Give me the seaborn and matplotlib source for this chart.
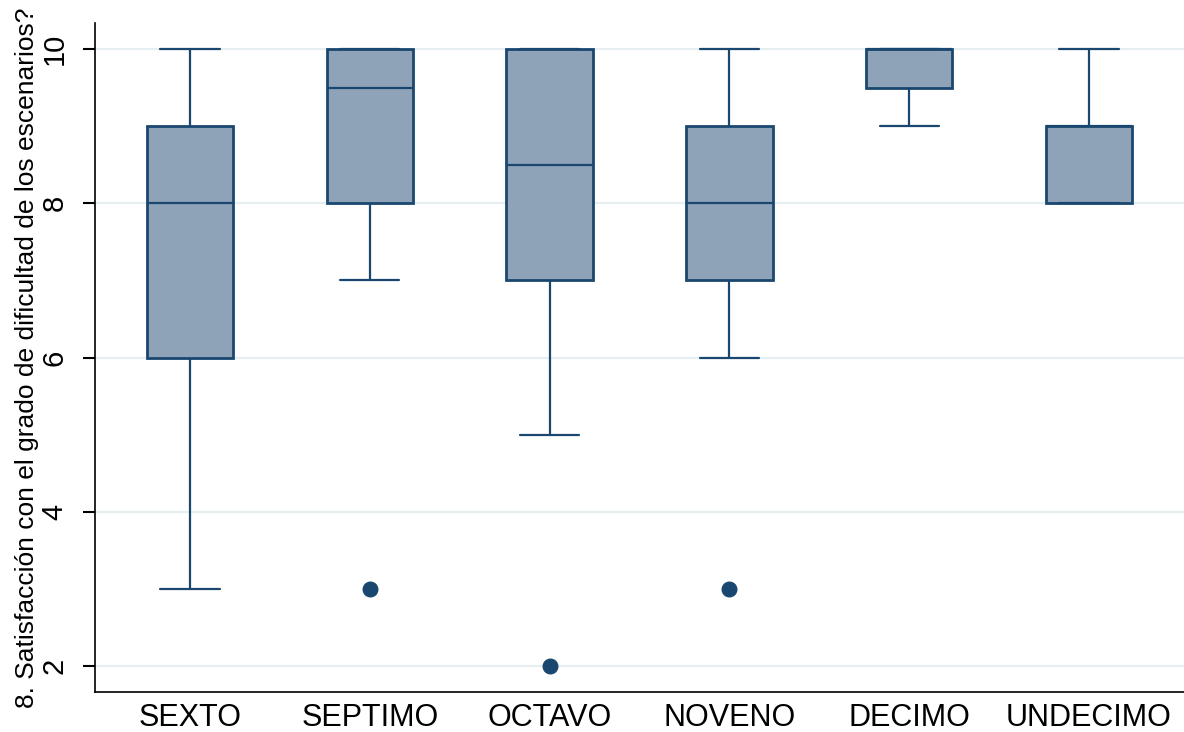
import matplotlib
matplotlib.use("Agg")
import matplotlib.pyplot as plt
import seaborn as sns
import pandas as pd

# scores per grade (chosen so the box stats match the picture)
grados = ["SEXTO", "SEPTIMO", "OCTAVO", "NOVENO", "DECIMO", "UNDECIMO"]
sexto = [3, 6, 8, 9, 10]
septimo = [3, 7, 8, 8, 9, 10, 10, 10, 10, 10]
octavo = [2, 5, 7, 7, 8, 9, 10, 10, 10, 10]
noveno = [3, 6, 7, 8, 8, 8, 9, 9, 10]
decimo = [9, 9, 10, 10, 10, 10, 10]
undecimo = [8, 8, 9, 9, 10]
yticks = [2, 4, 6, 8, 10]
ylabel = "8. Satisfacción con el grado de dificultad de los escenarios?"

valores = [sexto, septimo, octavo, noveno, decimo, undecimo]
rows = []
for g, vals in zip(grados, valores):
    for v in vals:
        rows.append({"grado": g, "score": v})
df = pd.DataFrame(rows)

sns.set_style("ticks", {"text.color": "black", "axes.labelcolor": "black",
                        "xtick.color": "black", "ytick.color": "black"})
plt.rcParams["font.family"] = ["Liberation Sans", "DejaVu Sans"]

navy = "#1a476f"
fill = "#8ea3b7"

fig = plt.figure(figsize=(11.84, 7.32), dpi=100)
ax = fig.add_axes([0.0802, 0.0546, 0.9198, 0.914])

ax.grid(axis="y", color="#e6eef1", lw=1.6, zorder=0)
ax.set_axisbelow(True)

sns.boxplot(data=df, x="grado", y="score", order=grados, ax=ax,
            width=0.48, color=fill, linecolor=navy, linewidth=1.6,
            whis=1.5, capwidths=0.33,
            boxprops=dict(facecolor=fill, edgecolor=navy, linewidth=2),
            medianprops=dict(color=navy, linewidth=1.6),
            whiskerprops=dict(color=navy, linewidth=1.6),
            capprops=dict(color=navy, linewidth=1.6),
            flierprops=dict(marker="o", markerfacecolor=navy,
                            markeredgecolor=navy, markersize=10.5))

ax.set_xlim(-0.528, 5.528)
ax.set_ylim(1.66, 10.34)
ax.set_yticks(yticks)
ax.set_yticklabels([str(t) for t in yticks], rotation=90, va="center", fontsize=21)
ax.tick_params(axis="y", which="major", length=9, width=1.5, colors="black",
               pad=10, left=True, direction="out")
ax.tick_params(axis="x", length=0, labelsize=22, pad=8, colors="black")

ax.set_xlabel("")
ax.set_ylabel(ylabel, fontsize=19, labelpad=1, color="black")

for s in ["top", "right"]:
    ax.spines[s].set_visible(False)
for s in ["left", "bottom"]:
    ax.spines[s].set_color("black")
    ax.spines[s].set_linewidth(1.2)

fig.savefig("out.png", dpi=100)
